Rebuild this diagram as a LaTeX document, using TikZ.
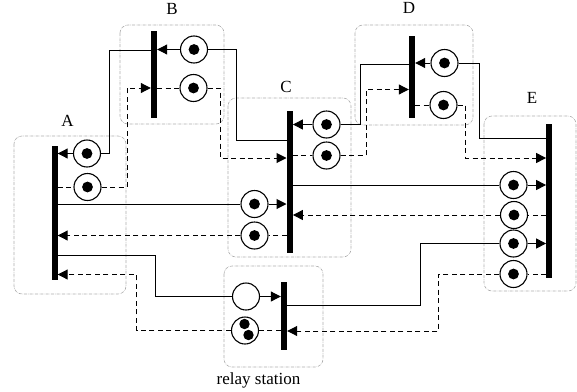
\documentclass[tikz,border=0pt]{standalone}
\usepackage{fontspec}
\setmainfont{Liberation Serif}
\usetikzlibrary{arrows.meta}

\begin{document}
\begin{tikzpicture}[
  x=1pt, y=-1pt,
  >={Triangle[length=10pt, width=10pt]},
  place/.style={draw, circle, fill=white, line width=1.1pt, inner sep=0pt, minimum size=27pt},
  marked/.style={place, path picture={\fill[black] (path picture bounding box.center) circle (5.4);}},
  marked2/.style={place, path picture={
    \fill[black] ([shift={(-0.5,-6.5)}]path picture bounding box.center) circle (5.2);
    \fill[black] ([shift={(3.5,4.5)}]path picture bounding box.center) circle (5.2);}},
  bar/.style={fill=black, inner sep=0pt, minimum width=6pt},
  station/.style={draw=gray!65, densely dashdotted, line width=0.6pt, rounded corners=8pt},
  title/.style={font=\fontsize{17}{19}\selectfont, inner sep=0pt},
  arr/.style={->, line width=1pt},
  line/.style={line width=1pt},
  darr/.style={arr, dash pattern=on 5pt off 3.5pt},
  dline/.style={line, dash pattern=on 5pt off 3.5pt}
]
  \useasboundingbox (0,0) rectangle (577,391);

  % Stations
  \draw[station] (14,136) rectangle (126,294);
  \draw[station] (120,25) rectangle (224,124);
  \draw[station] (228,98) rectangle (351,257);
  \draw[station] (355,25) rectangle (473,125);
  \draw[station] (484,116) rectangle (576,291);
  \draw[station] (224,266) rectangle (323,367);

  % Titles
  \node[title] (tA) at (67.5,121) {A};
  \node[title] (tB) at (172,9) {B};
  \node[title] (tC) at (286,87) {C};
  \node[title] (tD) at (409,8) {D};
  \node[title] (tE) at (532,98) {E};
  \node[title] (tR) at (258.5,380) {relay station};

  % Bars
  \node[bar, minimum height=134pt] (barA) at (54.5,213) {};
  \node[bar, minimum height=87pt]  (barB) at (154,74.5) {};
  \node[bar, minimum height=142pt] (barC) at (289.7,182) {};
  \node[bar, minimum height=82pt]  (barD) at (412,77) {};
  \node[bar, minimum height=154pt] (barE) at (549.3,201) {};
  \node[bar, minimum height=68pt]  (barR) at (284,316) {};

  % Places
  \node[marked] (A1) at (87,153.5) {};
  \node[marked] (A2) at (87.5,187) {};
  \node[marked] (B1) at (194,49.5) {};
  \node[marked] (B2) at (193.5,88) {};
  \node[marked] (C1) at (326.5,124.5) {};
  \node[marked] (C2) at (326.5,155.5) {};
  \node[marked] (C3) at (254.5,204) {};
  \node[marked] (C4) at (254.5,235.5) {};
  \node[marked] (D1) at (444.5,63) {};
  \node[marked] (D2) at (443.5,105) {};
  \node[marked] (E1) at (513.5,185) {};
  \node[marked] (E2) at (514,215) {};
  \node[marked] (E3) at (513.5,243.5) {};
  \node[marked] (E4) at (513.5,274) {};
  \node[place]   (R1) at (246,296.5) {};
  \node[marked2] (R2) at (245,330.5) {};

  % Bends
  \coordinate (ba) at (109.5,50.5);
  \coordinate (bb) at (236,140);
  \coordinate (bc) at (360,64);
  \coordinate (bd) at (479,138);
  \coordinate (be) at (127,88);
  \coordinate (bf) at (220,158);
  \coordinate (bg) at (366,89.5);
  \coordinate (bh) at (465.5,158);
  \coordinate (bi) at (155,255);
  \coordinate (bj) at (136.5,274.5);
  \coordinate (bk) at (420,305.5);
  \coordinate (bl) at (438.5,331);

  % Solid arrows
  \draw[line] (barB.west |- ba) -- (ba) |- (A1);
  \draw[arr] (A1) -- (barA.east |- A1);
  \draw[arr] (B1) -- (barB.east |- B1);
  \draw[line] (B1) -| (bb) -- (barC.west |- bb);
  \draw[line] (barD.west |- bc) -- (bc) |- (C1);
  \draw[arr] (C1) -- (barC.east |- C1);
  \draw[arr] (D1) -- (barD.east |- D1);
  \draw[line] (D1) -| (bd) -- (barE.west |- bd);
  \draw[line] (barC.east |- E1) -- (E1);
  \draw[arr] (E1) -- (barE.west |- E1);
  \draw[line] (barA.east |- C3) -- (C3);
  \draw[arr] (C3) -- (barC.west |- C3);
  \draw[line] (barA.east |- bi) -- (bi) |- (R1);
  \draw[arr] (R1) -- (barR.west |- R1);
  \draw[line] (barR.east |- bk) -- (bk) |- (E3);
  \draw[arr] (E3) -- (barE.west |- E3);

  % Dashed arrows
  \draw[dline] (barA.east |- A2) -- (A2);
  \draw[darr] (A2) -| (be) -- (barB.west |- be);
  \draw[dline] (barB.east |- B2) -- (B2);
  \draw[darr] (B2) -| (bf) -- (barC.west |- bf);
  \draw[dline] (barC.east |- C2) -- (C2);
  \draw[darr] (C2) -| (bg) -- (barD.west |- bg);
  \draw[dline] (barD.east |- D2) -- (D2);
  \draw[darr] (D2) -| (bh) -- (barE.west |- bh);
  \draw[dline] (barE.west |- E2) -- (E2);
  \draw[darr] (E2) -- (barC.east |- E2);
  \draw[dline] (barC.west |- C4) -- (C4);
  \draw[darr] (C4) -- (barA.east |- C4);
  \draw[dline] (barE.west |- E4) -- (E4);
  \draw[darr] (E4) -| (bl) -- (barR.east |- bl);
  \draw[dline] (barR.west |- R2) -- (R2);
  \draw[darr] (R2) -| (bj) -- (barA.east |- bj);
\end{tikzpicture}
\end{document}
